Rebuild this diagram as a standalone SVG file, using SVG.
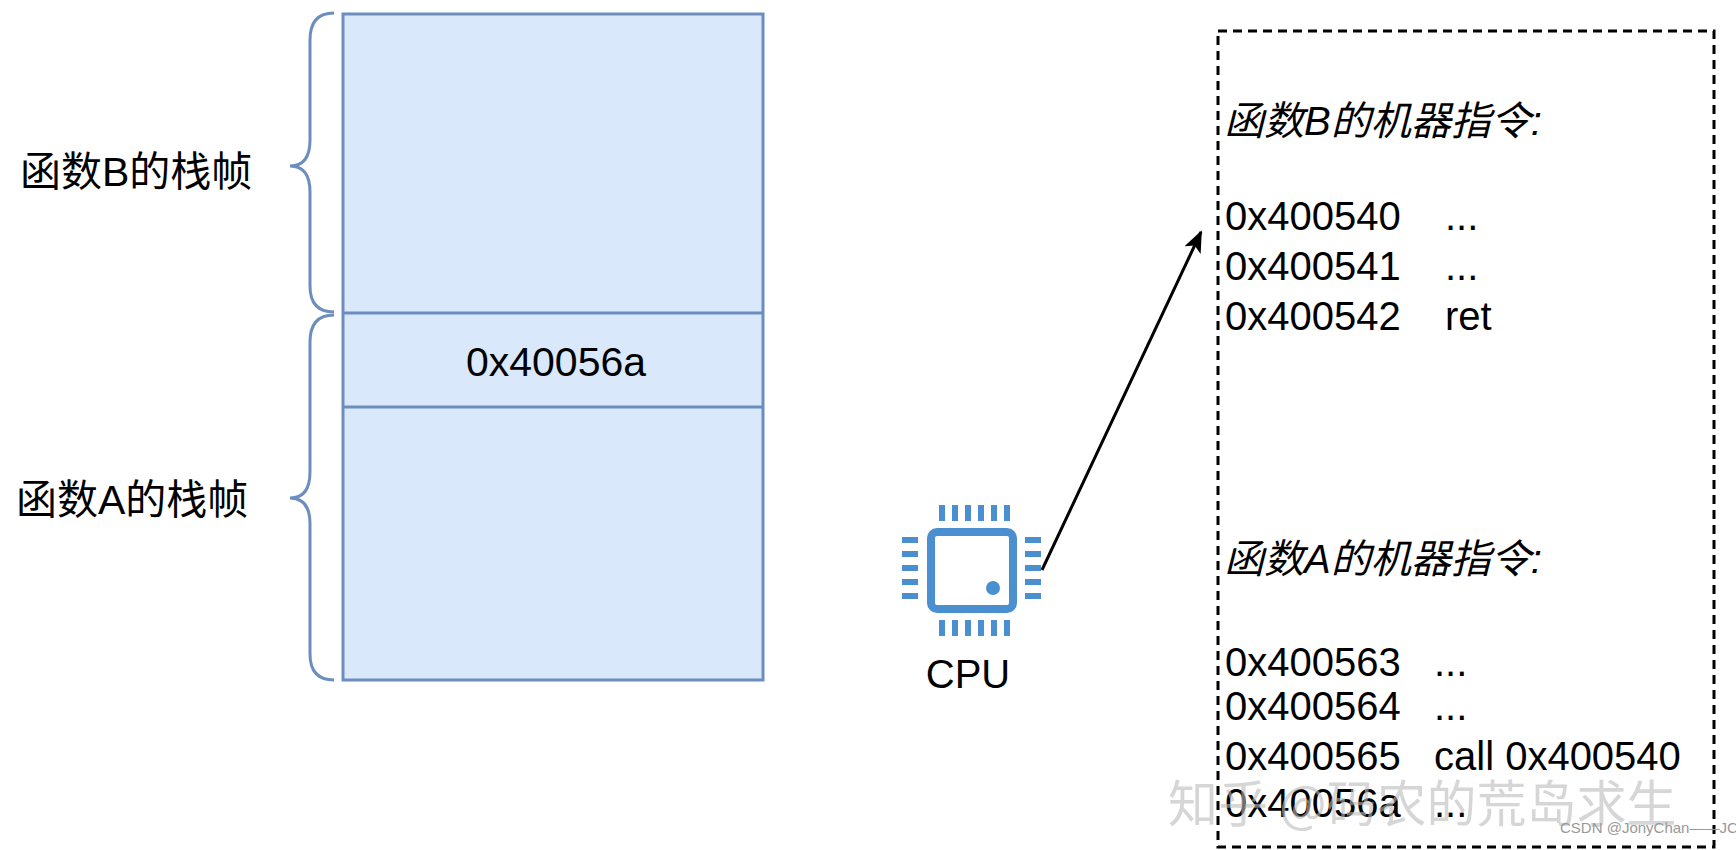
<svg xmlns="http://www.w3.org/2000/svg" width="1736" height="850" viewBox="0 0 1736 850">
<style>
.t{font-family:"Liberation Sans","Noto Sans CJK SC",sans-serif;fill:#000}
.b{fill:none;stroke:#6c8ebf;stroke-width:3}
.p{fill:#4a8fd0}
</style>
<defs><marker id="ar" markerWidth="22" markerHeight="18" refX="20" refY="9" orient="auto" markerUnits="userSpaceOnUse"><path d="M0,0 L22,9 L0,18 L5,9 Z" fill="#000"/></marker></defs>
<rect width="1736" height="850" fill="#fff"/>
<g id="stack">
<rect x="343" y="14" width="420" height="666" fill="#dae8fc" stroke="#6c8ebf" stroke-width="3"/>
<line x1="343" y1="313" x2="763" y2="313" stroke="#6c8ebf" stroke-width="3"/>
<line x1="343" y1="407" x2="763" y2="407" stroke="#6c8ebf" stroke-width="3"/>
<text class="t" x="556" y="376" font-size="41" text-anchor="middle">0x40056a</text>
</g>
<g id="braceB">
<path class="b" d="M334,13 Q310,13 310,40 L310,140 Q310,166 290,166 Q310,166 310,192 L310,286 Q310,312 334,312"/>
<text class="t" x="20" y="186" font-size="41">函数B的栈帧</text>
</g>
<g id="braceA">
<path class="b" d="M334,315 Q310,315 310,342 L310,472 Q310,498 290,498 Q310,498 310,524 L310,654 Q310,680 334,680"/>
<text class="t" x="16" y="514" font-size="41">函数A的栈帧</text>
</g>
<g id="cpu">
<rect x="931" y="532" width="82" height="77" rx="6" fill="none" stroke="#4a8fd0" stroke-width="8"/>
<circle cx="993" cy="588" r="7" class="p"/>
<g class="p">
<rect x="939" y="505" width="6" height="16"/><rect x="952" y="505" width="6" height="16"/><rect x="965" y="505" width="6" height="16"/><rect x="978" y="505" width="6" height="16"/><rect x="991" y="505" width="6" height="16"/><rect x="1004" y="505" width="6" height="16"/>
<rect x="939" y="620" width="6" height="16"/><rect x="952" y="620" width="6" height="16"/><rect x="965" y="620" width="6" height="16"/><rect x="978" y="620" width="6" height="16"/><rect x="991" y="620" width="6" height="16"/><rect x="1004" y="620" width="6" height="16"/>
<rect x="902" y="537" width="16" height="6"/><rect x="902" y="551" width="16" height="6"/><rect x="902" y="565" width="16" height="6"/><rect x="902" y="579" width="16" height="6"/><rect x="902" y="593" width="16" height="6"/>
<rect x="1025" y="537" width="16" height="6"/><rect x="1025" y="551" width="16" height="6"/><rect x="1025" y="565" width="16" height="6"/><rect x="1025" y="579" width="16" height="6"/><rect x="1025" y="593" width="16" height="6"/>
</g>
<text class="t" x="968" y="688" font-size="40" text-anchor="middle">CPU</text>
</g>
<g id="code">
<rect x="1218" y="31" width="496" height="816" fill="none" stroke="#000" stroke-width="3" stroke-dasharray="9,6"/>
<g class="t" font-size="40">
<text x="1224" y="135" font-style="italic">函数B的机器指令:</text>
<text x="1225" y="230">0x400540</text><text x="1445" y="230">...</text>
<text x="1225" y="280">0x400541</text><text x="1445" y="280">...</text>
<text x="1225" y="330">0x400542</text><text x="1445" y="330">ret</text>
<text x="1224" y="573" font-style="italic">函数A的机器指令:</text>
<text x="1225" y="676">0x400563</text><text x="1434" y="676">...</text>
<text x="1225" y="720">0x400564</text><text x="1434" y="720">...</text>
<text x="1225" y="770">0x400565</text><text x="1434" y="770">call 0x400540</text>
<text x="1225" y="817">0x40056a</text><text x="1434" y="817">...</text>
</g>
</g>
<g id="connectors">
<line x1="1042" y1="570" x2="1201" y2="232" stroke="#000" stroke-width="3" marker-end="url(#ar)"/>
</g>
<text x="1168" y="822" font-family="'Noto Sans CJK SC',sans-serif" font-size="50" fill="#bbb" fill-opacity="0.6">知乎 @码农的荒岛求生</text>
<text x="1560" y="833" font-family="'Liberation Sans',sans-serif" font-size="15" fill="#999">CSDN @JonyChan——JC</text>
</svg>
